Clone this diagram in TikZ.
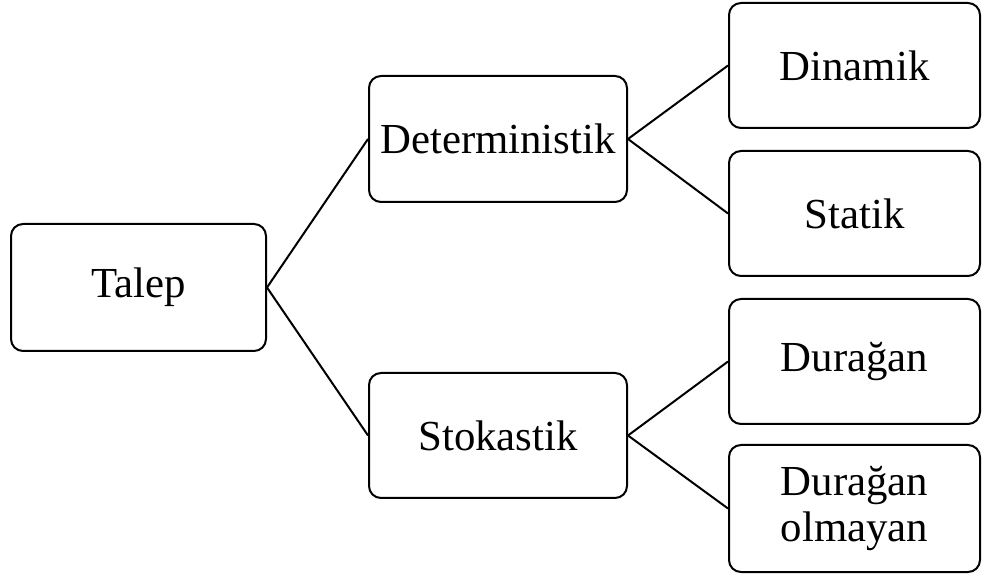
\documentclass[tikz,border=0pt]{standalone}
\usepackage{fontspec}
\setmainfont{Liberation Serif}
\begin{document}
\begin{tikzpicture}[x=1pt,y=1pt,
  box/.style={draw=black, line width=2pt, rounded corners=12pt, minimum width=255pt, minimum height=126pt, align=center, inner sep=0pt, font=\fontsize{42.8}{46}\selectfont},
  conn/.style={draw=black, line width=2pt}]
\useasboundingbox (0,0) rectangle (982,578);
\node[box, minimum width=255pt, minimum height=127pt] (talep) at (138.5,290.5) {Talep};
\node[box, minimum width=258pt] (det) at (498,439) {Deterministik};
\node[box, minimum width=258pt, minimum height=125pt] (stok) at (498,142.5) {Stokastik};
\node[box, minimum width=251pt, minimum height=125pt] (din) at (854.5,512.5) {Dinamik};
\node[box, minimum width=251pt, minimum height=125pt] (sta) at (854.5,364.5) {Statik};
\node[box, minimum width=251pt, minimum height=125pt] (dur) at (854.5,216.5) {Durağan};
\node[box, minimum width=251pt, minimum height=127pt] (durol) at (854.5,69.5) {Durağan\\olmayan};
\draw[conn] (talep.east) -- (det.west);
\draw[conn] (talep.east) -- (stok.west);
\draw[conn] (det.east) -- (din.west);
\draw[conn] (det.east) -- (sta.west);
\draw[conn] (stok.east) -- (dur.west);
\draw[conn] (stok.east) -- (durol.west);
\end{tikzpicture}
\end{document}
